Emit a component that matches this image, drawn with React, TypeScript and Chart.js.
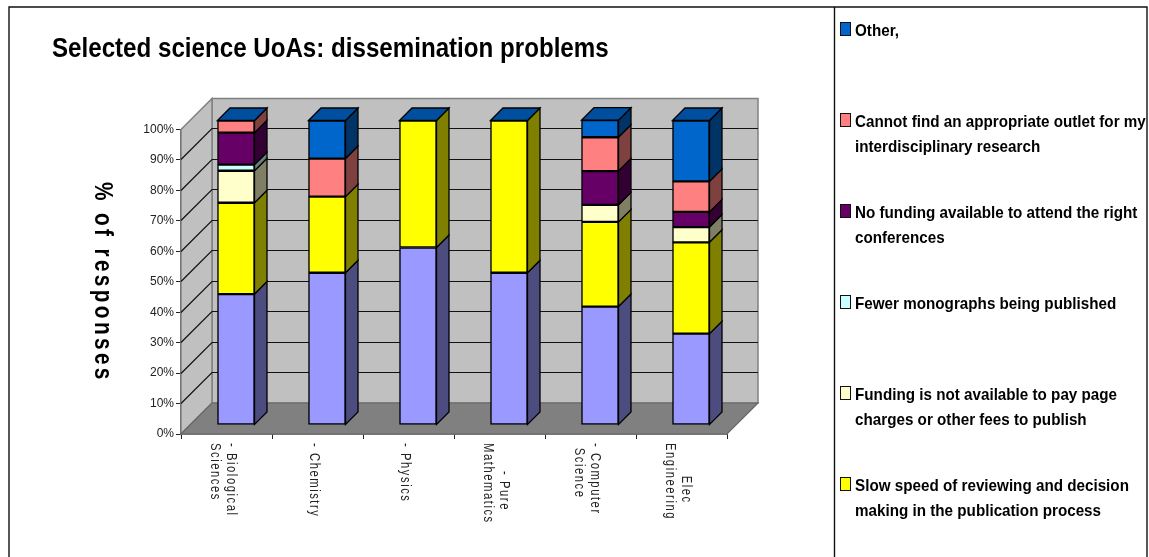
import { useEffect, useRef } from "react";
import { Chart, registerables } from "chart.js";

Chart.register(...registerables);

const chartTitle = "Selected science UoAs: dissemination problems";
const axisTitle = "% of responses";

// Category labels: one entry per line, leading spaces set the line's indent.
const categoryLines = [
  ["- Biological", "Sciences"],
  ["- Chemistry"],
  ["- Physics"],
  ["      - Pure", "Mathematics"],
  ["- Computer", " Science"],
  ["       Elec", "Engineering"],
];

// Share of responses per category, bottom of the stack first.
const baseCategory = [43, 50, 58.3, 50, 38.9, 30];
const slowReview = [30, 25, 41.7, 50, 27.8, 30];
const pageCharges = [10.5, 0, 0, 0, 5.6, 5];
const fewerMonographs = [2, 0, 0, 0, 0, 0];
const noConferenceFunding = [10.5, 0, 0, 0, 11.1, 5];
const noOutlet = [4, 12.5, 0, 0, 11.1, 10];
const other = [0, 12.5, 0, 0, 5.6, 20];

const legendTexts = [
  ["Other,"],
  ["Cannot find an appropriate outlet for my", "interdisciplinary research"],
  ["No funding available to attend the right", "conferences"],
  ["Fewer monographs being published"],
  ["Funding is not available to pay page", "charges or other fees to publish"],
  ["Slow speed of reviewing and decision", "making in the publication process"],
];

const frontColors = ["#9999FF", "#FFFF00", "#FFFFCC", "#CCFFFF", "#660066", "#FF8080", "#0066CC"];
const sideColors = ["#4C4C7F", "#7F7F00", "#7F7F66", "#667F7F", "#330033", "#7F4040", "#003366"];
const topColor = "#004F9F";

const WALL_DEPTH = 31;
const BAR_SHIFT_X = 9.5;
const BAR_SHIFT_Y = -9;
const BAR_DEPTH = 12.5;

type TextStyle = { font: string; scaleX?: number; spacing?: number; color?: string };

function drawStretchedText(ctx: CanvasRenderingContext2D, text: string, x: number, y: number, style: TextStyle, rotated = false) {
  ctx.save();
  ctx.translate(x, y);
  if (rotated) ctx.rotate(Math.PI / 2);
  ctx.scale(style.scaleX ?? 1, 1);
  ctx.font = style.font;
  (ctx as any).letterSpacing = `${style.spacing ?? 0}px`;
  ctx.fillStyle = style.color ?? "#000";
  ctx.textAlign = "left";
  ctx.textBaseline = "alphabetic";
  ctx.fillText(text, 0, 0);
  ctx.restore();
}

function polygon(ctx: CanvasRenderingContext2D, pts: number[][], fill: string, stroke?: string, width = 1) {
  ctx.beginPath();
  pts.forEach(([px, py], i) => (i ? ctx.lineTo(px, py) : ctx.moveTo(px, py)));
  ctx.closePath();
  ctx.fillStyle = fill;
  ctx.fill();
  if (stroke) {
    ctx.strokeStyle = stroke;
    ctx.lineWidth = width;
    ctx.stroke();
  }
}

// Page frame, chart title, legend column and the rotated labels.
const annotationPlugin = {
  id: "annotations",
  beforeDraw(chart: any) {
    const { ctx, width, height } = chart;
    ctx.save();
    ctx.fillStyle = "#fff";
    ctx.fillRect(0, 0, width, height);
    ctx.strokeStyle = "#111";
    ctx.lineWidth = 1.4;
    ctx.beginPath();
    ctx.moveTo(9, height);
    ctx.lineTo(9, 7);
    ctx.lineTo(1147, 7);
    ctx.lineTo(1147, height);
    ctx.moveTo(834.5, 7);
    ctx.lineTo(834.5, height);
    ctx.stroke();

    drawStretchedText(ctx, chartTitle, 52, 57, { font: "bold 28px 'Liberation Sans'", scaleX: 0.862 });
    drawStretchedText(ctx, axisTitle, 95, 182, { font: "bold 26px 'Liberation Sans'", scaleX: 0.8, spacing: 4.2 }, true);

    legendTexts.forEach((lines, k) => {
      const top = 22 + 91 * k;
      ctx.fillStyle = frontColors[6 - k];
      ctx.strokeStyle = "#111";
      ctx.lineWidth = 1;
      ctx.fillRect(840.5, top + 0.5, 10, 13);
      ctx.strokeRect(840.5, top + 0.5, 10, 13);
      lines.forEach((line, j) => {
        drawStretchedText(ctx, line, 855, top + 14 + j * 25, { font: "bold 17px 'Liberation Sans'", scaleX: 0.895 });
      });
    });

    ctx.restore();
  },
  afterDraw(chart: any) {
    const { ctx, scales } = chart;
    categoryLines.forEach((lines, i) => {
      const cx = scales.x.getPixelForTick(i) - 3;
      const first = cx + ((lines.length - 1) * 16) / 2;
      lines.forEach((line, j) => {
        drawStretchedText(ctx, line, first - j * 16 - 4.5, 443, { font: "15px 'Liberation Sans'", scaleX: 0.75, spacing: 2.06, color: "#222" }, true);
      });
    });
  },
};

// Walls and floor behind the bars, gridlines on those walls, and the depth faces of each bar.
const depthPlugin = {
  id: "depth",
  beforeDatasetsDraw(chart: any) {
    const { ctx, chartArea, scales } = chart;
    const { left, right, top, bottom } = chartArea;
    const d = WALL_DEPTH;
    ctx.save();
    polygon(ctx, [[left + d, top - d], [right + d, top - d], [right + d, bottom - d], [left + d, bottom - d]], "#C0C0C0", "#808080", 1.5);
    polygon(ctx, [[left, top], [left + d, top - d], [left + d, bottom - d], [left, bottom]], "#C0C0C0", "#808080", 1.5);
    polygon(ctx, [[left, bottom], [left + d, bottom - d], [right + d, bottom - d], [right, bottom]], "#808080", "#666", 1.2);

    ctx.lineWidth = 1.2;
    ctx.strokeStyle = "#111";
    scales.y.ticks.forEach((tick: any) => {
      if (tick.value === 0 || tick.value === 100) return;
      const py = Math.floor(scales.y.getPixelForValue(tick.value)) + 0.5;
      ctx.beginPath();
      ctx.moveTo(left, py);
      ctx.lineTo(left + d, py - d);
      ctx.lineTo(right + d, py - d);
      ctx.stroke();
    });
    ctx.restore();

    // Stays in effect until afterDatasetsDraw, so the bars stand mid-depth on the floor.
    ctx.save();
    ctx.translate(BAR_SHIFT_X, BAR_SHIFT_Y);
    const depth = BAR_DEPTH;
    chart.data.datasets.forEach((_: any, di: number) => {
      chart.getDatasetMeta(di).data.forEach((bar: any) => {
        if (Math.abs(bar.base - bar.y) < 0.01) return;
        const edge = bar.x + bar.width / 2;
        polygon(ctx, [[edge, bar.y], [edge + depth, bar.y - depth], [edge + depth, bar.base - depth], [edge, bar.base]], sideColors[di], "#000", 1.3);
      });
    });
    const lastMeta = chart.getDatasetMeta(chart.data.datasets.length - 1);
    lastMeta.data.forEach((bar: any) => {
      const l = bar.x - bar.width / 2;
      const r = bar.x + bar.width / 2;
      polygon(ctx, [[l, bar.y], [l + depth, bar.y - depth], [r + depth, bar.y - depth], [r, bar.y]], topColor, "#000", 1.3);
    });
  },
  afterDatasetsDraw(chart: any) {
    chart.ctx.restore();
  },
};

export default function App() {
  const canvasRef = useRef<HTMLCanvasElement>(null);

  useEffect(() => {
    const stacks = [baseCategory, slowReview, pageCharges, fewerMonographs, noConferenceFunding, noOutlet, other];
    const names = ["Base category", ...legendTexts.map((l) => l.join(" ")).reverse()];
    const chart = new Chart(canvasRef.current!, {
      type: "bar",
      data: {
        labels: categoryLines.map((l) => l.map((s) => s.trim())),
        datasets: stacks.map((data, i) => ({
          label: names[i],
          data,
          backgroundColor: frontColors[i],
          borderColor: "#000",
          borderWidth: 1.5,
          borderSkipped: false,
          barThickness: 37,
          clip: false as any,
        })),
      },
      options: {
        animation: false,
        responsive: false,
        layout: { padding: { top: 129.5, right: 422, left: 0, bottom: 0 } },
        plugins: { legend: { display: false }, title: { display: false }, tooltip: { enabled: false } },
        scales: {
          x: {
            stacked: true,
            grid: { drawOnChartArea: false, tickLength: 5, color: "#222", offset: true },
            border: { color: "#111", width: 1.5 },
            ticks: { display: false },
            afterFit: (s: any) => { s.height = 123; },
          },
          y: {
            stacked: true,
            min: 0,
            max: 100,
            grid: { drawOnChartArea: false, tickLength: 5, color: "#222" },
            border: { color: "#555", width: 2 },
            ticks: {
              stepSize: 10,
              padding: 2,
              color: "#222",
              font: { family: "'Liberation Sans', Arial, sans-serif", size: 12 },
              callback: (v: any) => `${v}%`,
            },
            afterFit: (s: any) => { s.width = 181; },
          },
        },
      },
      plugins: [annotationPlugin, depthPlugin],
    });
    return () => chart.destroy();
  }, []);

  return (
    <div style={{ position: "absolute", left: 0, top: 0 }}>
      <canvas ref={canvasRef} width={1149} height={557} style={{ display: "block" }} />
    </div>
  );
}
